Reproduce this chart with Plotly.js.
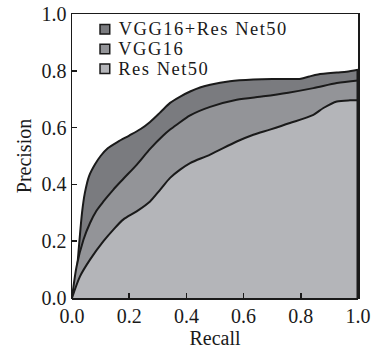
<!DOCTYPE html>
<html>
<head>
<meta charset="utf-8">
<script src="https://cdn.plot.ly/plotly-3.0.1.min.js"></script>
<style>
html,body{margin:0;padding:0;background:#fff;}
#chart{width:374px;height:353px;}
#chart .annotation-text{letter-spacing:1.5px;}
</style>
</head>
<body>
<div id="chart"></div>
<script>
// Series names (legend order)
var names = ["VGG16+Res Net50", "VGG16", "Res Net50"];

// VGG16+Res Net50
var comboRecall = [0, 0.015, 0.025, 0.035, 0.045, 0.06, 0.08, 0.10, 0.125, 0.16, 0.2, 0.24, 0.273, 0.31, 0.343, 0.38, 0.413, 0.45, 0.483, 0.552, 0.634, 0.70, 0.751, 0.80, 0.83, 0.86, 0.926, 0.96, 1.0];
var comboPrecision = [0, 0.08, 0.19, 0.30, 0.37, 0.43, 0.47, 0.50, 0.527, 0.55, 0.572, 0.595, 0.62, 0.655, 0.687, 0.71, 0.727, 0.742, 0.751, 0.763, 0.769, 0.771, 0.771, 0.772, 0.78, 0.787, 0.794, 0.797, 0.804];

// VGG16
var vggRecall = [0, 0.016, 0.04, 0.063, 0.086, 0.11, 0.144, 0.179, 0.226, 0.273, 0.319, 0.343, 0.366, 0.413, 0.483, 0.576, 0.669, 0.756, 0.844, 0.926, 1.0];
var vggPrecision = [0, 0.111, 0.205, 0.264, 0.308, 0.34, 0.381, 0.419, 0.469, 0.525, 0.572, 0.593, 0.61, 0.643, 0.673, 0.698, 0.71, 0.723, 0.739, 0.757, 0.766];

// Res Net50
var resRecall = [0, 0.028, 0.063, 0.11, 0.144, 0.179, 0.226, 0.273, 0.308, 0.343, 0.378, 0.413, 0.483, 0.576, 0.634, 0.692, 0.762, 0.844, 0.879, 0.926, 0.972, 1.0];
var resPrecision = [0, 0.076, 0.135, 0.2, 0.24, 0.276, 0.305, 0.34, 0.381, 0.423, 0.452, 0.475, 0.505, 0.551, 0.575, 0.593, 0.616, 0.645, 0.669, 0.692, 0.696, 0.696];

// Tick labels
var tickVals = [0, 0.2, 0.4, 0.6, 0.8, 1.0];
var tickText = ["0.0", "0.2", "0.4", "0.6", "0.8", "1.0"];

var fills = ["rgb(122,123,127)", "rgb(147,148,152)", "rgb(180,181,185)"];
var lineCol = "#1a1a1a";
var font = "Liberation Serif, Times New Roman, serif";
var letterSpacing = 1.5; // must match the CSS rule above

var series = [
  [comboRecall, comboPrecision],
  [vggRecall, vggPrecision],
  [resRecall, resPrecision]
];

var traces = [];
series.forEach(function (s, i) {
  traces.push({
    x: s[0], y: s[1], type: "scatter", mode: "lines", name: names[i],
    fill: "tozeroy", fillcolor: fills[i],
    line: {color: lineCol, width: 2, shape: "spline", smoothing: 0.8},
    showlegend: false, hoverinfo: "skip"
  });
});
// closing right edge at the last recall value
traces.push({
  x: [comboRecall[comboRecall.length - 1], comboRecall[comboRecall.length - 1]],
  y: [comboPrecision[comboPrecision.length - 1], 0],
  type: "scatter", mode: "lines", line: {color: lineCol, width: 3},
  showlegend: false, hoverinfo: "skip"
});

// compact legend (swatch + label), laid out in paper coordinates
var shapes = [], annotations = [];
var legX0 = 0.098, legSw = 0.034, legTop = 0.946, legStep = 0.0695, swH = 0.0335;
names.forEach(function (n, i) {
  var yc = legTop - i * legStep;
  shapes.push({type: "rect", xref: "paper", yref: "paper",
    x0: legX0, x1: legX0 + legSw, y0: yc - swH / 2, y1: yc + swH / 2,
    fillcolor: fills[i], line: {color: lineCol, width: 1.5}});
  annotations.push({xref: "paper", yref: "paper", x: legX0 + legSw + 0.027, y: yc,
    xshift: letterSpacing * n.length / 2,
    xanchor: "left", yanchor: "middle", showarrow: false, text: n, borderpad: 0,
    font: {family: font, size: 18.5, color: lineCol}});
});

var layout = {
  width: 374, height: 353,
  margin: {l: 72, r: 16, t: 14, b: 55},
  paper_bgcolor: "#fff", plot_bgcolor: "#fff",
  font: {family: font, size: 20, color: "#1a1a1a"},
  showlegend: false,
  shapes: shapes, annotations: annotations,
  xaxis: {
    range: [0, 1], tickvals: tickVals, ticktext: tickText,
    ticks: "inside", ticklen: 5, tickwidth: 1.5, tickcolor: lineCol,
    tickfont: {family: font, size: 20},
    showline: true, linecolor: lineCol, linewidth: 1.2, mirror: true,
    showgrid: false, zeroline: false, layer: "above traces",
    title: {text: "Recall", font: {family: font, size: 20}, standoff: 0},
    automargin: false
  },
  yaxis: {
    range: [0, 1], tickvals: tickVals, ticktext: tickText,
    ticks: "inside", ticklen: 5, tickwidth: 1.5, tickcolor: lineCol,
    tickfont: {family: font, size: 20},
    showline: true, linecolor: lineCol, linewidth: 1.5, mirror: true,
    showgrid: false, zeroline: true, zerolinecolor: lineCol, zerolinewidth: 3,
    layer: "above traces",
    title: {text: "Precision", font: {family: font, size: 20}, standoff: 4},
    automargin: false
  }
};

Plotly.newPlot("chart", traces, layout, {displayModeBar: false, staticPlot: true});
</script>
</body>
</html>
